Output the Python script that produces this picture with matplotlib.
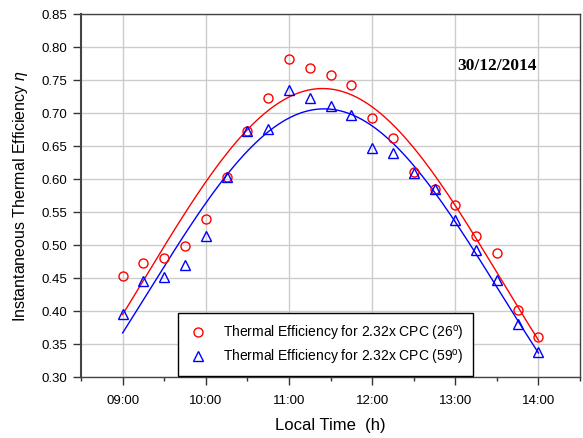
import numpy as np
import matplotlib
matplotlib.use('Agg')
import matplotlib.pyplot as plt
from matplotlib.ticker import MultipleLocator, FormatStrFormatter

plt.rcParams['font.family'] = ['Liberation Sans', 'DejaVu Sans']
plt.rcParams['mathtext.fontset'] = 'custom'
plt.rcParams['mathtext.rm'] = 'Liberation Sans'
plt.rcParams['mathtext.it'] = 'Liberation Sans:italic'

# Measurements every 15 minutes on 30/12/2014
times = ['09:00', '09:15', '09:30', '09:45', '10:00', '10:15', '10:30', '10:45',
         '11:00', '11:15', '11:30', '11:45', '12:00', '12:15', '12:30', '12:45',
         '13:00', '13:15', '13:30', '13:45', '14:00']
eff_26 = [0.453, 0.473, 0.480, 0.498, 0.540, 0.603, 0.673, 0.723,
          0.782, 0.768, 0.757, 0.742, 0.692, 0.662, 0.610, 0.585,
          0.560, 0.513, 0.488, 0.402, 0.360]
eff_59 = [0.396, 0.445, 0.452, 0.470, 0.514, 0.603, 0.673, 0.675,
          0.735, 0.722, 0.710, 0.697, 0.647, 0.639, 0.609, 0.585,
          0.538, 0.492, 0.447, 0.381, 0.338]
tick_labels = ['09:00', '10:00', '11:00', '12:00', '13:00', '14:00']
label_26 = r'Thermal Efficiency for 2.32x CPC (26$^{\mathrm{o}}$)'
label_59 = r'Thermal Efficiency for 2.32x CPC (59$^{\mathrm{o}}$)'


def to_hours(t):
    h, m = t.split(':')
    return int(h) + int(m) / 60.0


def gauss_fit(x, y):
    # 3-parameter Gaussian peak, least squares (Gauss-Newton from a log fit)
    c2, c1, c0 = np.polyfit(x, np.log(y), 2)
    x0 = -c1 / (2 * c2)
    b = np.sqrt(-1 / (2 * c2))
    a = np.exp(c0 - c1 ** 2 / (4 * c2))
    p = np.array([a, x0, b])
    for _ in range(100):
        a, x0, b = p
        e = np.exp(-0.5 * ((x - x0) / b) ** 2)
        r = y - a * e
        J = np.column_stack([e, a * e * (x - x0) / b ** 2, a * e * (x - x0) ** 2 / b ** 3])
        step = np.linalg.lstsq(J, r, rcond=None)[0]
        p = p + step
    return p


x = np.array([to_hours(t) for t in times])
y26 = np.array(eff_26)
y59 = np.array(eff_59)

fig = plt.figure(figsize=(5.83, 4.39), dpi=100)
ax = fig.add_axes([0.139, 0.139, 0.856, 0.827])

xs = np.linspace(x.min(), x.max(), 300)
for yv, col in [(y26, 'red'), (y59, 'blue')]:
    a, x0, b = gauss_fit(x, yv)
    ax.plot(xs, a * np.exp(-0.5 * ((xs - x0) / b) ** 2), color=col, lw=1.0, zorder=3)

ax.plot(x, y26, 'o', mfc='none', mec='red', ms=6.5, mew=1.0, ls='none', label=label_26, zorder=4)
ax.plot(x, y59, '^', mfc='none', mec='blue', ms=6.5, mew=1.0, ls='none', label=label_59, zorder=4)

ax.set_xlim(8.5, 14.5)
ax.set_ylim(0.30, 0.85)
ax.set_xticks([to_hours(t) for t in tick_labels])
ax.set_xticklabels(tick_labels)
ax.xaxis.set_minor_locator(MultipleLocator(0.5))
ax.yaxis.set_major_locator(MultipleLocator(0.05))
ax.yaxis.set_major_formatter(FormatStrFormatter('%.2f'))

ax.grid(True, which='major', color='#cccccc', lw=1.0, zorder=0)
ax.set_axisbelow(True)
ax.tick_params(axis='x', which='major', direction='out', length=6, width=1, pad=6,
               labelsize=9.5, colors='#333333', labelcolor='black')
ax.tick_params(axis='x', which='minor', direction='out', length=3, width=1, colors='#333333')
ax.tick_params(axis='y', which='major', direction='out', length=6, width=1, pad=4,
               labelsize=9.5, colors='#333333', labelcolor='black')
for s in ax.spines.values():
    s.set_color('#444444')
    s.set_linewidth(1.0)
ax.spines['left'].set_linewidth(1.5)

ax.set_xlabel('Local Time  (h)', fontsize=12, labelpad=8)
ax.set_ylabel(r'Instantaneous Thermal Efficiency $\mathit{\eta}$', fontsize=11.5, labelpad=8)

fig.text(497 / 583, 1 - 66 / 439, '30/12/2014', fontsize=12.5, fontweight='bold',
         family='Liberation Serif', ha='center', va='center')

leg = ax.legend(loc='lower left', bbox_to_anchor=(0.195, 0.004), fontsize=10,
                frameon=True, fancybox=False, edgecolor='black', framealpha=1,
                handletextpad=1.0, borderpad=0.7, labelspacing=0.35, handlelength=1.5,
                borderaxespad=0)
leg.get_frame().set_linewidth(1.0)

fig.savefig('out.png', dpi=100)
